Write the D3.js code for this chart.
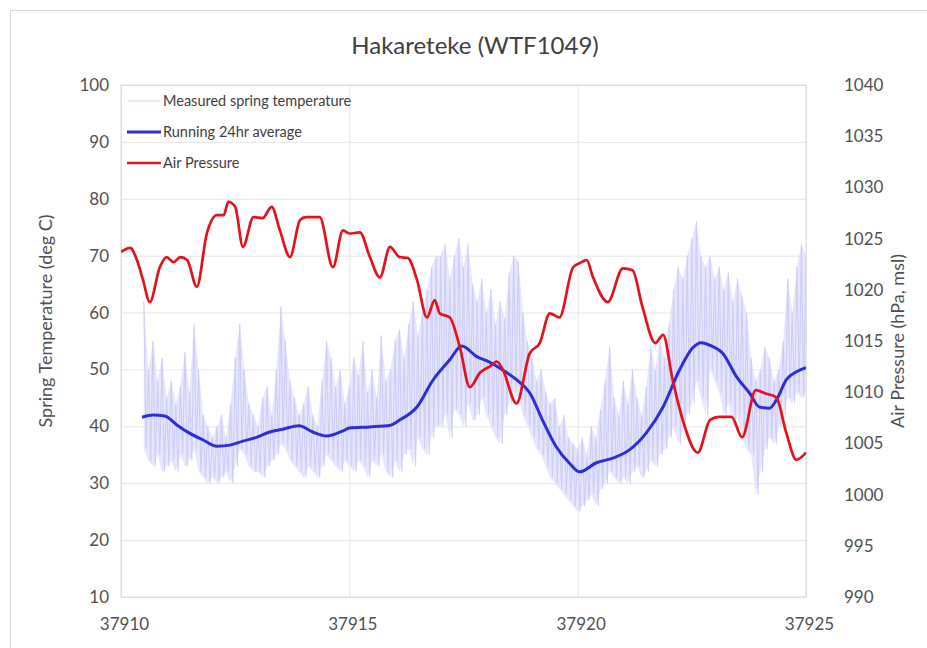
<!DOCTYPE html>
<html>
<head>
<meta charset="utf-8">
<script src="https://cdnjs.cloudflare.com/ajax/libs/d3/7.8.5/d3.min.js"></script>
<style>
	body { margin: 0; background: #fff; }
	svg text { font-family: Lato, "Open Sans", sans-serif; }
</style>
</head>
<body>
<svg id="chart" width="927" height="648"></svg>
<script>
const title = "Hakareteke (WTF1049)";
const leftTitle = "Spring Temperature (deg C)";
const rightTitle = "Air Pressure (hPa, msl)";
const xTicks = [37910, 37915, 37920, 37925];
const tempTicks = [10, 20, 30, 40, 50, 60, 70, 80, 90, 100];
const presTicks = [990, 995, 1000, 1005, 1010, 1015, 1020, 1025, 1030, 1035, 1040];
const seriesNames = ["Measured spring temperature", "Running 24hr average", "Air Pressure"];

// measured temp envelope, one pair every 0.1 day starting 37910.5
const measuredStart = 37910.5;
const measuredHigh = [
	62, 50, 55, 48, 52,
	45, 48, 44, 47, 53, 46, 58, 50, 42, 40,
	38, 40, 42, 38, 44, 52, 58, 50, 44, 42,
	40, 45, 47, 42, 50, 61, 55, 48, 45, 42,
	44, 47, 42, 40, 48, 55, 52, 47, 50, 44,
	47, 52, 49, 55, 46, 50, 45, 56, 48, 50,
	55, 57, 52, 58, 62, 56, 60, 64, 68, 70,
	70, 72, 66, 70, 73, 68, 72, 65, 62, 66,
	60, 64, 58, 62, 59, 67, 70, 69, 60, 55,
	52, 48, 50, 46, 44, 45, 40, 42, 38, 37,
	36, 38, 35, 40, 38, 43, 48, 54, 45, 42,
	48, 44, 50, 45, 42, 47, 54, 50, 55, 52,
	58, 64, 68, 66, 70, 73, 76, 70, 68, 70,
	66, 68, 64, 67, 62, 66, 63, 60, 52, 48,
	50, 54, 52, 48, 50, 55, 66, 60, 68, 72,
	70
];
const measuredLow = [
	36, 34, 33, 35, 32,
	33, 34, 32, 35, 33, 34, 36, 32, 31, 30,
	31, 30, 31, 32, 30, 33, 36, 35, 33, 32,
	32, 31, 33, 34, 35, 37, 36, 34, 33, 32,
	31, 33, 32, 31, 33, 35, 34, 33, 32, 34,
	33, 32, 34, 33, 31, 34, 33, 35, 32, 31,
	34, 32, 35, 36, 33, 38, 36, 35, 38, 40,
	40, 42, 38, 43, 42, 40, 44, 41, 42, 45,
	42, 40, 38, 37, 42, 44, 46, 45, 42, 40,
	38, 36, 35, 33, 31, 30, 29, 28, 27, 26,
	25, 26, 27, 28, 26, 29, 30, 32, 31, 30,
	31, 30, 32, 33, 31, 32, 34, 33, 35, 36,
	38, 40, 37, 39, 42, 44, 48, 45, 42, 50,
	48, 46, 42, 44, 40, 42, 38, 36, 35, 28,
	32, 36, 38, 37, 40, 42, 45, 44, 46, 45,
	46
];

const avgDays = [37910.46, 37910.7, 37910.96, 37911.23, 37911.5, 37911.8, 37912.1, 37912.39, 37912.67, 37912.98,
	37913.26, 37913.55, 37913.9, 37914.2, 37914.5, 37914.86, 37915.0, 37915.45, 37915.9, 37916.1,
	37916.48, 37916.83, 37917.2, 37917.46, 37917.8, 37918.07, 37918.36, 37918.66, 37918.95, 37919.23,
	37919.53, 37919.82, 37920.04, 37920.41, 37920.77, 37921.14, 37921.5, 37921.87, 37922.23, 37922.52,
	37922.7, 37922.96, 37923.17, 37923.48, 37923.76, 37923.98, 37924.2, 37924.35, 37924.57, 37924.79, 37925.0];
const avgTemp = [41.6, 42.0, 41.8, 40.2, 38.8, 37.6, 36.5, 36.7, 37.4, 38.1,
	39.0, 39.5, 40.1, 39.0, 38.3, 39.2, 39.7, 39.9, 40.2, 41.1,
	43.4, 48.1, 51.7, 54.1, 52.2, 51.3, 49.9, 48.2, 45.9, 41.1,
	36.4, 33.5, 32.0, 33.6, 34.4, 35.9, 38.8, 43.4, 49.9, 53.8,
	54.7, 54.0, 52.9, 48.7, 45.9, 43.4, 43.2, 44.6, 48.2, 49.6, 50.3];

const presDays = [37910.0, 37910.2, 37910.35, 37910.48, 37910.63, 37910.85, 37911.0, 37911.15, 37911.3, 37911.45,
	37911.66, 37911.88, 37912.1, 37912.25, 37912.35, 37912.5, 37912.67, 37912.9, 37913.1, 37913.3,
	37913.48, 37913.7, 37913.92, 37914.05, 37914.35, 37914.64, 37914.86, 37915.0, 37915.23, 37915.45,
	37915.67, 37915.89, 37916.1, 37916.28, 37916.48, 37916.7, 37916.87, 37916.98, 37917.2, 37917.42,
	37917.64, 37917.86, 37918.07, 37918.23, 37918.36, 37918.66, 37918.95, 37919.17, 37919.39, 37919.6,
	37919.9, 37920.04, 37920.2, 37920.33, 37920.66, 37920.99, 37921.2, 37921.42, 37921.7, 37921.87,
	37922.08, 37922.3, 37922.63, 37922.9, 37923.1, 37923.37, 37923.6, 37923.9, 37924.1, 37924.35,
	37924.57, 37924.79, 37925.0];
const pressure = [1023.7, 1024.1, 1022.9, 1021.0, 1018.8, 1022.2, 1023.2, 1022.7, 1023.2, 1022.9,
	1020.3, 1025.5, 1027.3, 1027.3, 1028.6, 1028.1, 1024.2, 1027.1, 1027.0, 1028.1,
	1025.8, 1023.2, 1026.8, 1027.1, 1027.1, 1022.2, 1025.8, 1025.5, 1025.6, 1023.2,
	1021.2, 1024.2, 1023.2, 1023.1, 1021.0, 1017.3, 1019.0, 1017.7, 1017.3, 1014.4,
	1010.5, 1011.9, 1012.5, 1013.0, 1012.2, 1008.9, 1013.8, 1014.8, 1017.7, 1017.3,
	1022.2, 1022.6, 1022.9, 1021.3, 1018.8, 1022.1, 1021.9, 1018.3, 1014.8, 1015.6,
	1011.2, 1007.3, 1004.1, 1007.3, 1007.6, 1007.6, 1005.6, 1010.2, 1009.9, 1009.5,
	1006.0, 1003.4, 1004.1];

const colors = { measured: "#cdcdf7", band: "#e0e0fb", avg: "#2e2ed8", pres: "#e3121d", grid: "#e6e6e6", text: "#505050" };

const svg = d3.select("#chart");
const plot = { left: 121, right: 806, top: 85, bottom: 597 };

const x = d3.scaleLinear().domain([37910, 37925]).range([plot.left, plot.right]);
const yT = d3.scaleLinear().domain([10, 100]).range([plot.bottom, plot.top]);
const yP = d3.scaleLinear().domain([990, 1040]).range([plot.bottom, plot.top]);

// chart area border
svg.append("rect")
	.attr("x", 10.5).attr("y", 10.5).attr("width", 930).attr("height", 650)
	.attr("fill", "#fff").attr("stroke", "#d9d9d9");

svg.append("text")
	.attr("x", 475).attr("y", 54)
	.attr("text-anchor", "middle")
	.attr("font-size", 24)
	.attr("fill", "#404040")
	.text(title);

// gridlines
svg.append("g")
	.attr("transform", `translate(${plot.left},0)`)
	.call(d3.axisLeft(yT).tickValues(tempTicks).tickSize(-(plot.right - plot.left)).tickFormat(""))
	.call(g => g.select(".domain").remove())
	.call(g => g.selectAll("line").attr("stroke", colors.grid));

svg.append("g")
	.attr("transform", `translate(0,${plot.bottom})`)
	.call(d3.axisBottom(x).tickValues(xTicks).tickSize(-(plot.bottom - plot.top)).tickFormat(""))
	.call(g => g.select(".domain").remove())
	.call(g => g.selectAll("line").attr("stroke", colors.grid));

svg.append("rect")
	.attr("x", plot.left).attr("y", plot.top)
	.attr("width", plot.right - plot.left).attr("height", plot.bottom - plot.top)
	.attr("fill", "none").attr("stroke", "#d9d9d9");

// tick labels
const leftAxis = svg.append("g")
	.attr("transform", `translate(${plot.left - 9},0)`)
	.call(d3.axisLeft(yT).tickValues(tempTicks).tickSize(0));
const rightAxis = svg.append("g")
	.attr("transform", `translate(${plot.right + 35},0)`)
	.call(d3.axisRight(yP).tickValues(presTicks).tickFormat(d3.format("d")).tickSize(0));
const bottomAxis = svg.append("g")
	.attr("transform", `translate(3,${plot.bottom + 18})`)
	.call(d3.axisBottom(x).tickValues(xTicks).tickFormat(d3.format("d")).tickSize(0));
[leftAxis, rightAxis, bottomAxis].forEach(a => {
	a.select(".domain").remove();
	a.selectAll("text").attr("font-size", 17).attr("fill", colors.text)
		.style("font-family", "Lato, sans-serif");
});

svg.append("text")
	.attr("transform", `translate(46,${(plot.top + plot.bottom) / 2 - 20}) rotate(-90)`)
	.attr("text-anchor", "middle").attr("dy", "0.35em").attr("font-size", 18).attr("fill", colors.text)
	.text(leftTitle);
svg.append("text")
	.attr("transform", `translate(898,${(plot.top + plot.bottom) / 2}) rotate(-90)`)
	.attr("text-anchor", "middle").attr("dy", "0.35em").attr("font-size", 18).attr("fill", colors.text)
	.text(rightTitle);

svg.append("clipPath").attr("id", "clip")
	.append("rect")
	.attr("x", plot.left).attr("y", plot.top)
	.attr("width", plot.right - plot.left).attr("height", plot.bottom - plot.top);

const marks = svg.append("g").attr("clip-path", "url(#clip)");

// measured: light band between envelopes, then zigzag between them
const envelope = measuredHigh.map((hi, i) => ({ t: measuredStart + i * 0.1, hi: hi, lo: measuredLow[i] }));
marks.append("path")
	.datum(envelope)
	.attr("fill", colors.band)
	.attr("fill-opacity", 0.8)
	.attr("d", d3.area().x(d => x(d.t)).y0(d => yT(d.lo)).y1(d => yT(d.hi)));

const measured = [];
envelope.forEach(d => {
	measured.push({ t: d.t, v: d.hi });
	measured.push({ t: d.t + 0.05, v: d.lo });
});
marks.append("path")
	.datum(measured)
	.attr("fill", "none")
	.attr("stroke", colors.measured)
	.attr("stroke-width", 1.1)
	.attr("d", d3.line().x(d => x(d.t)).y(d => yT(d.v)));

const avg = avgDays.map((t, i) => ({ t: t, v: avgTemp[i] }));
marks.append("path")
	.datum(avg)
	.attr("fill", "none")
	.attr("stroke", colors.avg)
	.attr("stroke-width", 3)
	.attr("stroke-linejoin", "round")
	.attr("d", d3.line().curve(d3.curveMonotoneX).x(d => x(d.t)).y(d => yT(d.v)));

const pres = presDays.map((t, i) => ({ t: t, v: pressure[i] }));
marks.append("path")
	.datum(pres)
	.attr("fill", "none")
	.attr("stroke", colors.pres)
	.attr("stroke-width", 2.7)
	.attr("stroke-linejoin", "round")
	.attr("d", d3.line().curve(d3.curveMonotoneX).x(d => x(d.t)).y(d => yP(d.v)));

// legend
const legendColors = ["#e4e4fa", colors.avg, colors.pres];
const legendWidths = [1.4, 3, 2.7];
const legend = svg.append("g");
seriesNames.forEach((name, i) => {
	const ly = 101 + i * 31;
	legend.append("line")
		.attr("x1", 127).attr("x2", 161).attr("y1", ly).attr("y2", ly)
		.attr("stroke", legendColors[i]).attr("stroke-width", legendWidths[i]);
	legend.append("text")
		.attr("x", 163).attr("y", ly).attr("dy", "0.35em")
		.attr("font-size", 14.5).attr("fill", "#404040")
		.text(name);
});
</script>
</body>
</html>
